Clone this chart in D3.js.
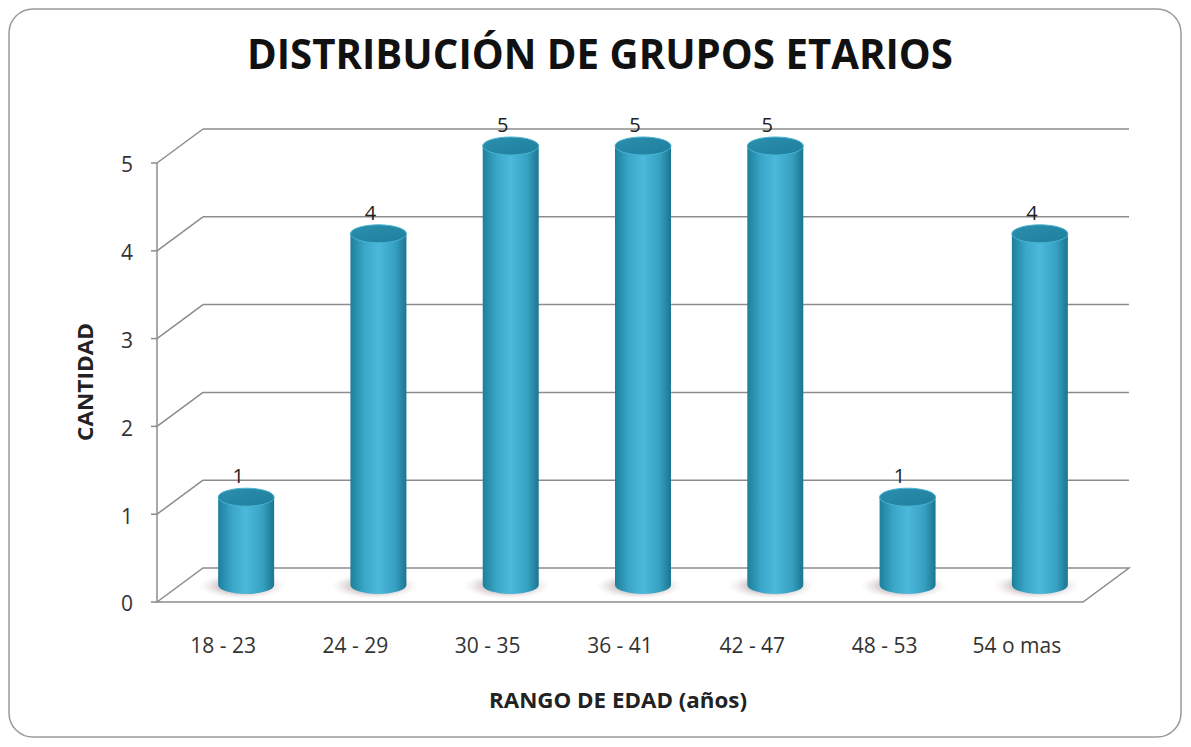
<!DOCTYPE html>
<html>
<head>
<meta charset="utf-8">
<script src="https://cdn.jsdelivr.net/npm/d3@7"></script>
<style>
  body { margin: 0; background: #fff; }
  text { font-family: "Open Sans", "Noto Sans", sans-serif; }
</style>
</head>
<body>
<script>
// data
const categories = ["18 - 23", "24 - 29", "30 - 35", "36 - 41", "42 - 47", "48 - 53", "54 o mas"];
const values = [1, 4, 5, 5, 5, 1, 4];
const yTicks = [0, 1, 2, 3, 4, 5];

const W = 1191, H = 747;
const svg = d3.select("body").append("svg")
    .attr("width", W)
    .attr("height", H);

// depth of the 3d box
const dx = 46, dy = -34;

const x = d3.scaleBand().domain(categories).range([157, 1083]).padding(0);
const y = d3.scaleLinear().domain([0, 5]).range([602, 163]);

// frame
svg.append("rect")
    .attr("x", 9).attr("y", 9)
    .attr("width", 1172).attr("height", 728)
    .attr("rx", 24)
    .attr("fill", "#fff")
    .attr("stroke", "#9a9a9a")
    .attr("stroke-width", 1.5);

const defs = svg.append("defs");
const grad = defs.append("linearGradient").attr("id", "cyl");
grad.append("stop").attr("offset", "0%").attr("stop-color", "#1d7f9c");
grad.append("stop").attr("offset", "25%").attr("stop-color", "#3aa7c8");
grad.append("stop").attr("offset", "50%").attr("stop-color", "#4cb9da");
grad.append("stop").attr("offset", "80%").attr("stop-color", "#36a0c1");
grad.append("stop").attr("offset", "100%").attr("stop-color", "#1b7591");

const topGrad = defs.append("linearGradient").attr("id", "cyltop")
    .attr("x1", 0).attr("y1", 0).attr("x2", 1).attr("y2", 1);
topGrad.append("stop").attr("offset", "0%").attr("stop-color", "#2b8fae");
topGrad.append("stop").attr("offset", "100%").attr("stop-color", "#1f7f9d");

const shade = defs.append("radialGradient").attr("id", "shadow");
shade.append("stop").attr("offset", "0%").attr("stop-color", "#8a7f82").attr("stop-opacity", 0.8);
shade.append("stop").attr("offset", "60%").attr("stop-color", "#b8a9ad").attr("stop-opacity", 0.5);
shade.append("stop").attr("offset", "100%").attr("stop-color", "#e6dadd").attr("stop-opacity", 0);

const grid = svg.append("g").attr("stroke", "#8c8c8c").attr("stroke-width", 1.5).attr("fill", "none");

// floor
grid.append("path")
    .attr("d", `M${x.range()[0]},${y(0)} L${x.range()[0] + dx},${y(0) + dy} L${x.range()[1] + dx},${y(0) + dy} L${x.range()[1]},${y(0)} Z`)
    .attr("fill", "#fff");

// back wall lines + left side diagonals
yTicks.filter(d => d > 0).forEach(v => {
    grid.append("line")
        .attr("x1", x.range()[0] + dx).attr("y1", y(v) + dy)
        .attr("x2", x.range()[1] + dx).attr("y2", y(v) + dy);
    grid.append("line")
        .attr("x1", x.range()[0]).attr("y1", y(v))
        .attr("x2", x.range()[0] + dx).attr("y2", y(v) + dy);
});

// y axis
grid.append("line")
    .attr("x1", x.range()[0]).attr("y1", y(0))
    .attr("x2", x.range()[0]).attr("y2", y(5));
yTicks.forEach(v => {
    grid.append("line")
        .attr("x1", x.range()[0] - 6).attr("y1", y(v))
        .attr("x2", x.range()[0]).attr("y2", y(v));
});

svg.append("g").selectAll("text")
    .data(yTicks)
    .join("text")
    .attr("x", 127)
    .attr("y", d => y(d) + 2)
    .attr("dy", "0.35em")
    .attr("text-anchor", "middle")
    .attr("font-size", 21)
    .attr("fill", "#333")
    .text(d => d);

// cylinders
const bw = 56, ry = 9;
const bars = svg.append("g");
categories.forEach((c, i) => {
    const cx = x(c) + x.bandwidth() / 2 + dx / 2;
    const base = y(0) + dy / 2;
    const top = y(values[i]) + dy / 2;
    bars.append("ellipse")
        .attr("cx", cx - 4).attr("cy", base + 1)
        .attr("rx", bw * 0.78).attr("ry", 13)
        .attr("fill", "url(#shadow)");
    bars.append("path")
        .attr("d", `M${cx - bw / 2},${top} L${cx - bw / 2},${base} A${bw / 2},${ry} 0 0 0 ${cx + bw / 2},${base} L${cx + bw / 2},${top} Z`)
        .attr("fill", "url(#cyl)");
    bars.append("ellipse")
        .attr("cx", cx).attr("cy", top)
        .attr("rx", bw / 2).attr("ry", ry)
        .attr("fill", "url(#cyltop)")
        .attr("stroke", "#48b3d3")
        .attr("stroke-width", 1);
    bars.append("text")
        .attr("x", cx - 8)
        .attr("y", top - 14)
        .attr("text-anchor", "middle")
        .attr("font-size", 20)
        .attr("fill", "#222")
        .text(values[i]);
});

// category labels
svg.append("g").selectAll("text")
    .data(categories)
    .join("text")
    .attr("x", d => x(d) + x.bandwidth() / 2)
    .attr("y", 653)
    .attr("text-anchor", "middle")
    .attr("font-size", 21)
    .attr("fill", "#333")
    .text(d => d);

// titles
svg.append("text")
    .attr("x", 600).attr("y", 69)
    .attr("text-anchor", "middle")
    .attr("font-size", 42)
    .attr("font-weight", "bold")
    .attr("fill", "#111")
    .attr("textLength", 706)
    .attr("lengthAdjust", "spacingAndGlyphs")
    .text("DISTRIBUCIÓN DE GRUPOS ETARIOS");

svg.append("text")
    .attr("x", 618).attr("y", 708)
    .attr("text-anchor", "middle")
    .attr("font-size", 21)
    .attr("font-weight", "bold")
    .attr("fill", "#222")
    .attr("textLength", 258)
    .attr("lengthAdjust", "spacingAndGlyphs")
    .text("RANGO DE EDAD (años)");

svg.append("text")
    .attr("transform", "translate(93,382) rotate(-90)")
    .attr("text-anchor", "middle")
    .attr("font-size", 22)
    .attr("font-weight", "bold")
    .attr("fill", "#222")
    .attr("textLength", 118)
    .attr("lengthAdjust", "spacingAndGlyphs")
    .text("CANTIDAD");
</script>
</body>
</html>
